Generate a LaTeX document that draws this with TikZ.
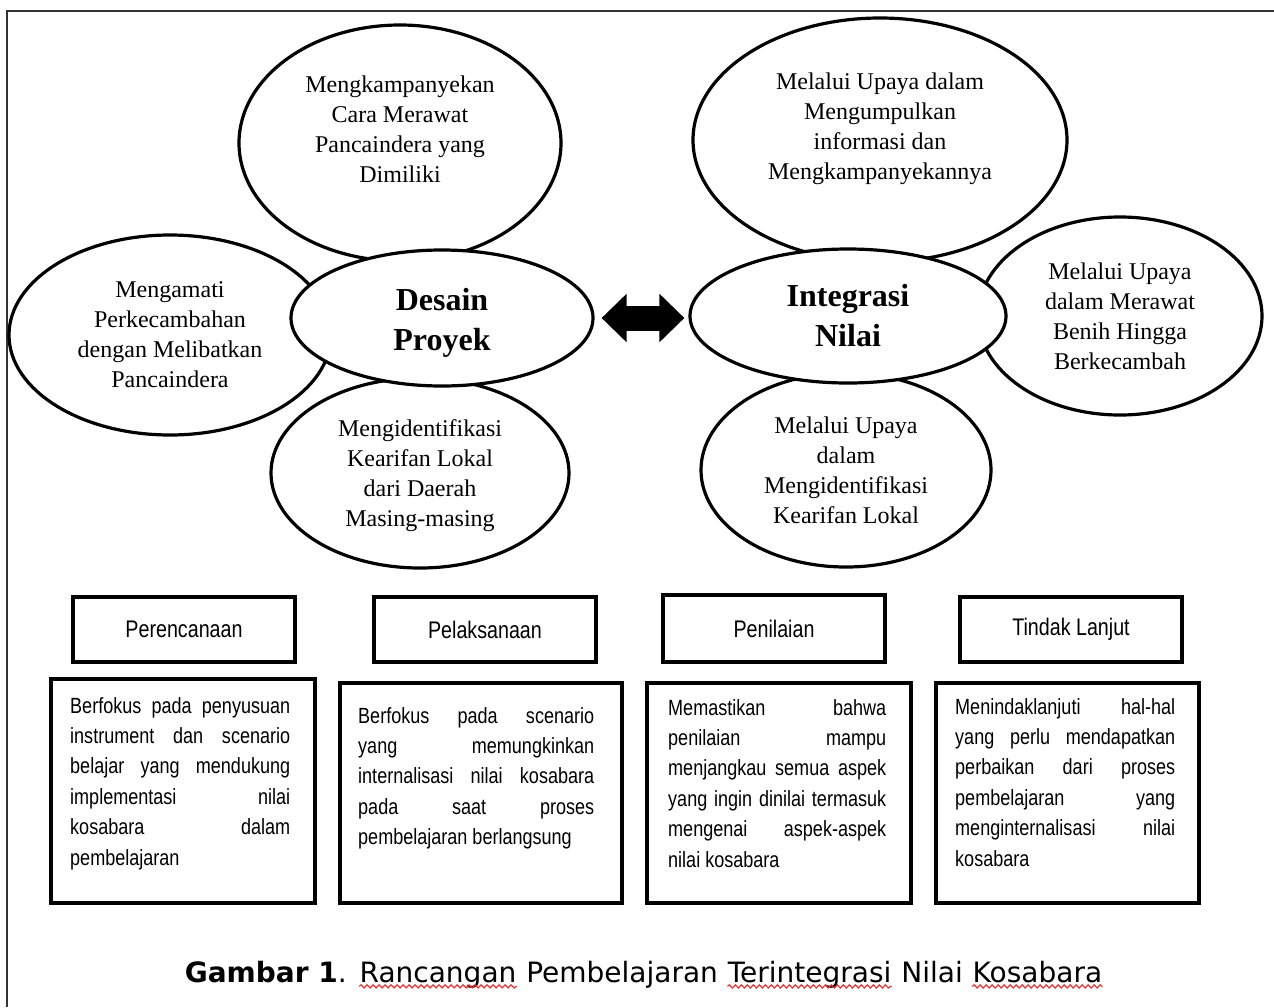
\documentclass[tikz,border=0pt]{standalone}
\usepackage{fontspec}
\setmainfont{Liberation Serif}
\newfontfamily\kotakfont{Liberation Sans}[FakeStretch=0.82]
\newfontfamily\judulfont{DejaVu Sans}
\usetikzlibrary{shapes.geometric,arrows.meta,calc,decorations.pathmorphing}
\definecolor{merah}{RGB}{228,52,52}
\tolerance=10000
\hbadness=10000

\newcommand{\rata}[1]{#1\linebreak}
\newcommand{\salah}[1]{\tikz[baseline=(w.base)]{\node[inner sep=0pt,anchor=base] (w) {#1};
  \draw[merah, line width=0.6pt, decorate, decoration={snake, amplitude=0.8pt, segment length=3pt}]
    ([yshift=-2.2pt]w.base west) -- ([yshift=-2.2pt]w.base east);}}

\begin{document}
\begin{tikzpicture}[x=0.5pt, y=-0.5pt,
  gelembung/.style={ellipse, draw, fill=white, line width=1.6pt, inner sep=0pt, align=center,
    font=\fontsize{12}{15}\selectfont},
  pusat/.style={gelembung, font=\fontsize{16}{20}\selectfont\bfseries},
  judul/.style={draw, line width=2pt, minimum width=111pt, minimum height=32.5pt, inner sep=0pt,
    font=\kotakfont\fontsize{12}{15}\selectfont},
  kotak/.style={draw, line width=2.2pt, inner sep=0pt},
  isi/.style={inner sep=0pt, text width=110pt, align=justify, anchor=north west,
    font=\kotakfont\fontsize{11}{15.2}\selectfont},
  panah/.style={line width=12.5pt, {Triangle[length=12.5pt,width=23.5pt]}-{Triangle[length=12.5pt,width=23.5pt]},
    shorten <=3.5pt, shorten >=2pt},
  bingkai/.style={line width=1.1pt, black!80}]
  \useasboundingbox (0,0) rectangle (1274,1007);
  \draw[bingkai] (7,1007) -- (7,11) -- (1274,11);

  \node[gelembung, minimum width=161pt, minimum height=118pt, text depth=14pt] (kampanye) at (400,143)
    {Mengkampanyekan\\Cara Merawat\\Pancaindera yang\\Dimiliki};
  \node[gelembung, minimum width=187pt, minimum height=122pt, text depth=14pt] (kumpul) at (880,140)
    {Melalui Upaya dalam\\Mengumpulkan\\informasi dan\\Mengkampanyekannya};
  \node[gelembung, minimum width=161pt, minimum height=100pt] (amati) at (170,335)
    {Mengamati\\Perkecambahan\\dengan Melibatkan\\Pancaindera};
  \node[gelembung, minimum width=149pt, minimum height=95pt, text height=56pt] (kearifan) at (420,473)
    {Mengidentifikasi\\Kearifan Lokal\\dari Daerah\\Masing-masing};
  \node[gelembung, minimum width=142pt, minimum height=99pt] (rawat) at (1120,316)
    {Melalui Upaya\\dalam Merawat\\Benih Hingga\\Berkecambah};
  \node[gelembung, minimum width=145pt, minimum height=97pt] (lokal) at (846,470)
    {Melalui Upaya\\dalam\\Mengidentifikasi\\Kearifan Lokal};

  \node[pusat, minimum width=151pt, minimum height=68pt, text height=36pt] (desain) at (442,318) {Desain\\Proyek};
  \node[pusat, minimum width=158pt, minimum height=67pt] (integrasi) at (848,316) {Integrasi\\Nilai};
  \draw[panah] (desain.east) -- (desain.east -| integrasi.west);

  \node[judul] (rencana) at (184,629.5) {Perencanaan};
  \node[judul] (laksana) at (485,629.5) {Pelaksanaan};
  \node[judul, minimum height=33.5pt] (nilai) at (774,628.5) {Penilaian};
  \node[judul] (lanjut) at (1071,629.5) {Tindak Lanjut};

  \node[kotak, minimum width=132pt, minimum height=112pt] (k1) at (183,791) {};
  \node[kotak, minimum width=141pt, minimum height=110pt] (k2) at (481,793) {};
  \node[kotak, minimum width=132pt, minimum height=110pt] (k3) at (779,793) {};
  \node[kotak, minimum width=131.5pt, minimum height=110pt] (k4) at (1067.5,793) {};

  \node[isi] (t1) at ($(k1.north west)+(21,20)$)
    {\rata{Berfokus pada penyusuan} \rata{instrument dan scenario} \rata{belajar yang mendukung}
     \rata{implementasi nilai} \rata{kosabara dalam} pembelajaran};
  \node[isi, text width=118pt] (t2) at ($(k2.north west)+(20,26)$)
    {\rata{Berfokus pada scenario} \rata{yang memungkinkan} \rata{internalisasi nilai kosabara}
     \rata{pada saat proses} pembelajaran berlangsung};
  \node[isi, text width=109pt] (t3) at ($(k3.north west)+(23,18)$)
    {\rata{Memastikan bahwa} \rata{penilaian mampu} \rata{menjangkau semua aspek}
     \rata{yang ingin dinilai termasuk} \rata{mengenai aspek-aspek} nilai kosabara};
  \node[isi] (t4) at ($(k4.north west)+(21,17)$)
    {\rata{Menindaklanjuti hal-hal} \rata{yang perlu mendapatkan} \rata{perbaikan dari proses}
     \rata{pembelajaran yang} \rata{menginternalisasi nilai} kosabara};

  \node[font=\judulfont\fontsize{14}{17}\selectfont, anchor=base, inner sep=0pt] (keterangan) at (644,982)
    {\textbf{Gambar 1}. \salah{Rancangan} Pembelajaran \salah{Terintegrasi} Nilai \salah{Kosabara}};
\end{tikzpicture}
\end{document}
